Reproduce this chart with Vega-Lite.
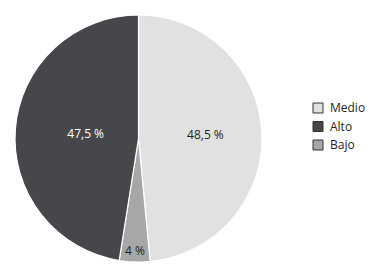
{
  "$schema": "https://vega.github.io/schema/vega-lite/v6.json",
  "width": 277,
  "height": 277,
  "padding": {"left": 0, "top": 0, "right": 107, "bottom": 1},
  "autosize": {"type": "none"},
  "background": "white",
  "config": {"view": {"stroke": null}, "font": "Open Sans"},
  "data": {
    "values": [
      {"cat": "Medio", "valor": 48.5, "orden": 1, "label": "48,5 %"},
      {"cat": "Bajo", "valor": 4, "orden": 2, "label": "4 %"},
      {"cat": "Alto", "valor": 47.5, "orden": 3, "label": "47,5 %"}
    ]
  },
  "encoding": {
    "theta": {"field": "valor", "type": "quantitative", "stack": true},
    "order": {"field": "orden", "type": "quantitative"}
  },
  "layer": [
    {
      "mark": {"type": "arc", "outerRadius": 123.5, "stroke": "white", "strokeWidth": 1.2},
      "encoding": {
        "color": {
          "field": "cat",
          "type": "nominal",
          "scale": {"domain": ["Medio", "Alto", "Bajo"], "range": ["#e0e1e0", "#46474a", "#a5a7a8"]},
          "legend": {
            "title": null,
            "orient": "none",
            "legendX": 312,
            "legendY": 102,
            "symbolType": "square",
            "symbolSize": 100,
            "symbolStrokeColor": "#333333",
            "symbolStrokeWidth": 1,
            "labelFontSize": 12,
            "labelColor": "#231f20",
            "labelFont": "Open Sans",
            "rowPadding": 4.5,
            "labelOffset": 6
          }
        }
      }
    },
    {
      "mark": {"type": "text", "radius": 67, "fontSize": 12, "color": "#231f20"},
      "encoding": {"text": {"condition": {"test": "datum.cat == 'Medio'", "field": "label"}, "value": ""}}
    },
    {
      "mark": {"type": "text", "radius": 53, "fontSize": 12, "color": "white"},
      "encoding": {"text": {"condition": {"test": "datum.cat == 'Alto'", "field": "label"}, "value": ""}}
    },
    {
      "mark": {"type": "text", "radius": 113, "fontSize": 12, "color": "#231f20"},
      "encoding": {"text": {"condition": {"test": "datum.cat == 'Bajo'", "field": "label"}, "value": ""}}
    }
  ]
}
